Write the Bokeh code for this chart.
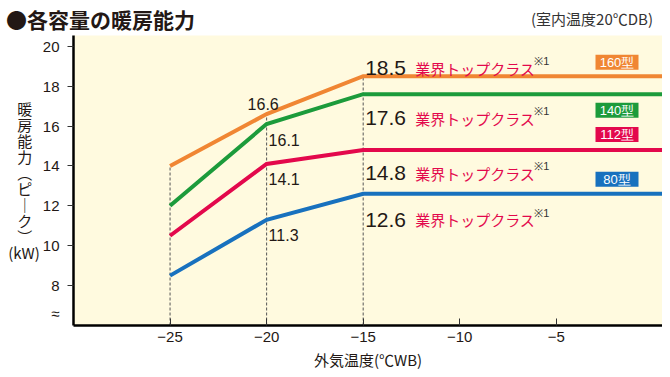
from bokeh.plotting import figure
from bokeh.models import Range1d, Label, FixedTicker, Div
from bokeh.layouts import column
from bokeh.core.properties import value
from bokeh.embed import file_html
from bokeh.resources import INLINE

# ---- data ----
temps = [-25, -20, -15]
models = ["160型", "140型", "112型", "80型"]
cap_160 = [14.0, 16.6, 18.5]
cap_140 = [12.0, 16.1, 17.6]
cap_112 = [10.5, 14.1, 14.8]
cap_80 = [8.5, 11.3, 12.6]
x_ticks = [-25, -20, -15, -10, -5]
y_ticks = [8, 10, 12, 14, 16, 18, 20]
top_class = "業界トップクラス"
note_mark = "※1"
title_text = "●各容量の暖房能力"
condition_text = "(室内温度20℃DB)"
x_label = "外気温度(℃WB)"
y_label_chars = ["暖", "房", "能", "力", "︵", "ピ", "｜", "ク", "︶"]
y_unit = "(kW)"

# ---- style ----
ORANGE = "#F08633"
GREEN = "#1C9B3B"
RED = "#E3084C"
BLUE = "#1871BE"
CREAM = "#FFFADF"
INK = "#231815"
JP = "Noto Sans CJK JP"
NUM = "Liberation Sans"

X0, X1 = -30, 0.5
Y0, Y1 = 6, 20.54
HEAD = 35
W = 662
ML, MB, MT = 73, 47, 0
FW, FH = W - ML, 290
H = FH + MB + MT
PPX = FW / (X1 - X0)
PPY = FH / (Y1 - Y0)


def pos(x, y, dx=0, dy=0):
    """data point shifted by dx px right, dy px down"""
    return x + dx / PPX, y - dy / PPY


header = Div(
    text=(f'<div style="display:flex;justify-content:space-between;align-items:center;'
          f'width:{W}px;height:37px;margin:0;padding:0;">'
          f'<span style="font-family:\'{JP}\';font-size:21px;font-weight:bold;color:{INK};'
          f'margin-left:6px;">{title_text}</span>'
          f'<span style="font-family:\'{JP}\';font-size:15px;color:#333333;margin-right:9px;">'
          f'{condition_text}</span>'
          f'</div>'),
    width=W, height=HEAD, margin=0)

p = figure(width=W, height=H, x_range=Range1d(X0, X1), y_range=Range1d(Y0, Y1),
           output_backend="svg", toolbar_location=None, title=None,
           min_border_left=ML, min_border_right=0, min_border_top=MT, min_border_bottom=MB,
           margin=0)
p.background_fill_color = CREAM
p.border_fill_color = "white"
p.outline_line_color = None
p.xgrid.grid_line_color = None
p.ygrid.grid_line_color = None

for ax in (p.xaxis, p.yaxis):
    ax.axis_line_color = "black"
    ax.axis_line_width = 2.5
    ax.major_tick_line_color = "#333333"
    ax.major_tick_line_width = 1
    ax.minor_tick_line_color = None
    ax.major_label_text_font = NUM
    ax.major_label_text_font_size = "15px"
    ax.major_label_text_color = INK

p.xaxis.ticker = FixedTicker(ticks=x_ticks)
p.xaxis.major_label_overrides = {t: "−" + str(abs(t)) for t in x_ticks}
p.xaxis.major_tick_in = 7
p.xaxis.major_tick_out = 0
p.xaxis.major_label_standoff = 6
p.xaxis.axis_label = x_label
p.xaxis.axis_label_text_font = JP
p.xaxis.axis_label_text_font_size = "15px"
p.xaxis.axis_label_text_font_style = "normal"
p.xaxis.axis_label_text_color = INK
p.xaxis.axis_label_standoff = 4

# axis break mark as a label near the bottom of the y axis
BREAK = round(Y0 + 12 / PPY, 2)
p.yaxis.ticker = FixedTicker(ticks=[BREAK] + y_ticks, minor_ticks=y_ticks)
p.yaxis.major_label_overrides = {BREAK: "≈"}
p.yaxis.major_tick_in = 0
p.yaxis.major_tick_out = 0
p.yaxis.minor_tick_in = 0
p.yaxis.minor_tick_out = 6
p.yaxis.minor_tick_line_color = "#333333"
p.yaxis.minor_tick_line_width = 1
p.yaxis.major_label_standoff = 8
# vertical writing: one character per line, centred over the unit
p.yaxis.axis_label = "\n".join([c + "\u2002" for c in y_label_chars] + [y_unit])
p.yaxis.axis_label_orientation = "horizontal"
p.yaxis.axis_label_text_font = JP
p.yaxis.axis_label_text_font_size = "15px"
p.yaxis.axis_label_text_font_style = "normal"
p.yaxis.axis_label_text_color = INK
p.yaxis.axis_label_text_line_height = 0.76
p.yaxis.axis_label_text_align = "center"
p.yaxis.axis_label_standoff = 0

series = [
    (models[0], cap_160, ORANGE),
    (models[1], cap_140, GREEN),
    (models[2], cap_112, RED),
    (models[3], cap_80, BLUE),
]

# dashed guides from the top series down to the axis
p.segment(x0=temps, y0=[Y0] * len(temps), x1=temps, y1=cap_160,
          line_color="#555555", line_width=1, line_dash="3 2")

for name, vals, col in series:
    xs = temps + [X1]
    ys = vals + [vals[-1]]
    p.line(xs, ys, line_color=col, line_width=4, line_join="miter")

# values at -20
small_off = [(-19, -10), (2, 15.5), (2, 15.5), (2, 15.5)]
for (name, vals, col), (dx, dy) in zip(series, small_off):
    x, y = pos(temps[1], vals[1], dx, dy)
    p.add_layout(Label(x=x, y=y, text=f"{vals[1]:.1f}", text_font=NUM, text_font_size="16px",
                       text_color=INK, text_align="left", text_baseline="alphabetic"))

# values at -15 with "industry top class", plus model tags
big_off = [-8, 24, 23.5, 26]
legend_off = [-14, 16, -15.5, -14.5]
tag_x, tag_y, tag_c = [], [], []
for (name, vals, col), dy, ldy in zip(series, big_off, legend_off):
    v = vals[-1]
    x, y = pos(temps[2], v, 2, dy)
    p.add_layout(Label(x=x, y=y, text=f"{v:.1f}", text_font=NUM, text_font_size="21px",
                       text_color=INK, text_align="left", text_baseline="alphabetic"))
    x, y = pos(temps[2], v, 52, dy)
    p.add_layout(Label(x=x, y=y, text=top_class, text_font=JP, text_font_size="15px",
                       text_color=RED, text_align="left", text_baseline="alphabetic"))
    x, y = pos(temps[2], v, 171, dy - 7)
    p.add_layout(Label(x=x, y=y, text=note_mark, text_font=NUM, text_font_size="11px",
                       text_color="#333333", text_align="left", text_baseline="alphabetic"))
    x, y = pos(X1, v, -45.5, ldy)
    tag_x.append(x)
    tag_y.append(y)
    tag_c.append(col)

p.rect(x=tag_x, y=tag_y, width=43, height=15, width_units="screen", height_units="screen",
       fill_color=tag_c, line_color=None)
p.text(x=tag_x, y=tag_y, text=models, text_font=value(NUM), text_font_size="13px",
       text_color="white", text_align="center", text_baseline="middle")

open("out.html", "w").write(file_html(column(header, p, spacing=0), INLINE))
